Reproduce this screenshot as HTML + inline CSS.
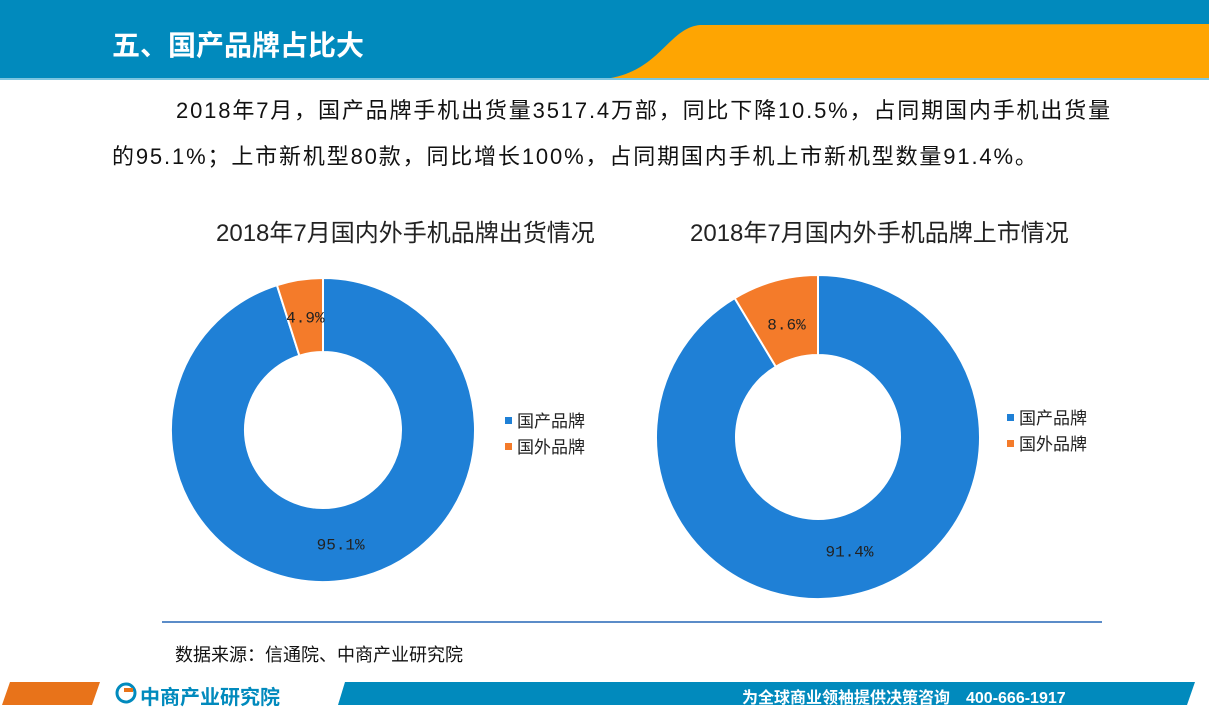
<!DOCTYPE html>
<html><head><meta charset="utf-8"><style>
body{margin:0;width:1209px;height:718px;overflow:hidden;background:#fff;font-family:"Liberation Sans","Noto Sans CJK SC",sans-serif;position:relative}
.abs{position:absolute}
</style></head><body>
<svg class="abs" style="left:0;top:0" width="1209" height="80">
<rect width="1209" height="79" fill="#018abd"/>
<path d="M605,79 C660,72 668,28 700,25 L1209,24 L1209,79 Z" fill="#fea502"/>
<rect y="78" width="1209" height="2" fill="#7cc5e0"/>
</svg>
<div class="abs" style="left:112px;top:24px;font-size:28px;font-weight:bold;color:#fff">五、国产品牌占比大</div>
<div class="abs" style="left:112px;top:88px;width:1100px;font-size:22px;letter-spacing:1.85px;line-height:46px;color:#111;white-space:nowrap"><span style="margin-left:64px">2018年7月，国产品牌手机出货量3517.4万部，同比下降10.5%，占同期国内手机出货量</span><br>的95.1%；上市新机型80款，同比增长100%，占同期国内手机上市新机型数量91.4%。</div>
<div class="abs" style="left:216px;top:213px;font-size:24px;color:#222">2018年7月国内外手机品牌出货情况</div>
<div class="abs" style="left:690px;top:213px;font-size:24px;color:#222">2018年7月国内外手机品牌上市情况</div>
<svg id="ch" class="abs" style="left:0;top:0" width="1209" height="718"></svg>
<div class="abs" style="left:162px;top:621px;width:940px;height:2px;background:#5b8cc8"></div>
<div class="abs" style="left:175px;top:641px;font-size:18px;color:#111">数据来源：信通院、中商产业研究院</div>
<svg class="abs" style="left:0;top:682px" width="1209" height="26">
<polygon points="10,0 100,0 92,23 2,23" fill="#e8731a"/>
<polygon points="345,0 1195,0 1187,23 338,23" fill="#018abd"/>
<circle cx="126" cy="11" r="9" fill="none" stroke="#018abd" stroke-width="3"/>
<rect x="124" y="6" width="9" height="4" fill="#e8731a"/>
</svg>
<div class="abs" style="left:140px;top:681px;font-size:20px;color:#018abd;font-weight:bold">中商产业研究院</div>
<div class="abs" style="left:742px;top:684px;font-size:16px;color:#fff;font-weight:bold">为全球商业领袖提供决策咨询　400-666-1917</div>
<script>
const categories=["国产品牌","国外品牌"];
const shipValues=[95.1,4.9];
const launchValues=[91.4,8.6];
const colors=["#1f80d6","#f47b2a"];
const svg=document.getElementById('ch');
const NS="http://www.w3.org/2000/svg";
function donut(cx,cy,R,r,vals,labelPos,lx,ly,name){
  const tot=vals.reduce((a,b)=>a+b,0);
  let a0=0;
  vals.forEach((v,i)=>{
    const a1=a0+v/tot*2*Math.PI;
    const p=(a,rad)=>[cx+rad*Math.sin(a),cy-rad*Math.cos(a)];
    const [x0,y0]=p(a0,R),[x1,y1]=p(a1,R),[x2,y2]=p(a1,r),[x3,y3]=p(a0,r);
    const lg=(a1-a0)>Math.PI?1:0;
    const path=document.createElementNS(NS,'path');
    path.setAttribute('d',`M${x0},${y0}A${R},${R} 0 ${lg} 1 ${x1},${y1}L${x2},${y2}A${r},${r} 0 ${lg} 0 ${x3},${y3}Z`);
    path.setAttribute('fill',colors[i]);path.setAttribute('stroke','#fff');path.setAttribute('stroke-width','2');
    
    
    svg.appendChild(path);
    const am=(a0+a1)/2,rm=labelPos[i];
    const t=document.createElementNS(NS,'text');
    const [tx,ty]=p(am,rm);
    t.setAttribute('x',tx);t.setAttribute('y',ty+6);t.setAttribute('text-anchor','middle');
    t.setAttribute('font-family','Liberation Mono, monospace');t.setAttribute('font-size','16');t.setAttribute('fill','#222');
    t.textContent=v+'%';
    
    
    svg.appendChild(t);
    a0=a1;
  });
  categories.forEach((c,i)=>{
    const rc=document.createElementNS(NS,'rect');
    rc.setAttribute('x',lx);rc.setAttribute('y',ly+i*26-4);rc.setAttribute('width',7);rc.setAttribute('height',7);rc.setAttribute('fill',colors[i]);
    
    
    svg.appendChild(rc);
    const t=document.createElementNS(NS,'text');
    t.setAttribute('x',lx+12);t.setAttribute('y',ly+i*26+6);t.setAttribute('font-size','17');t.setAttribute('fill','#222');
    t.setAttribute('font-family','Liberation Sans, Noto Sans CJK SC, sans-serif');
    t.textContent=c;
    
    
    svg.appendChild(t);
  });
}
donut(323,430,152,78,shipValues,[115,115],505,421,'shipment');
donut(818,437,162,82,launchValues,[118,118],1007,418,'launch');
</script>
</body></html>
